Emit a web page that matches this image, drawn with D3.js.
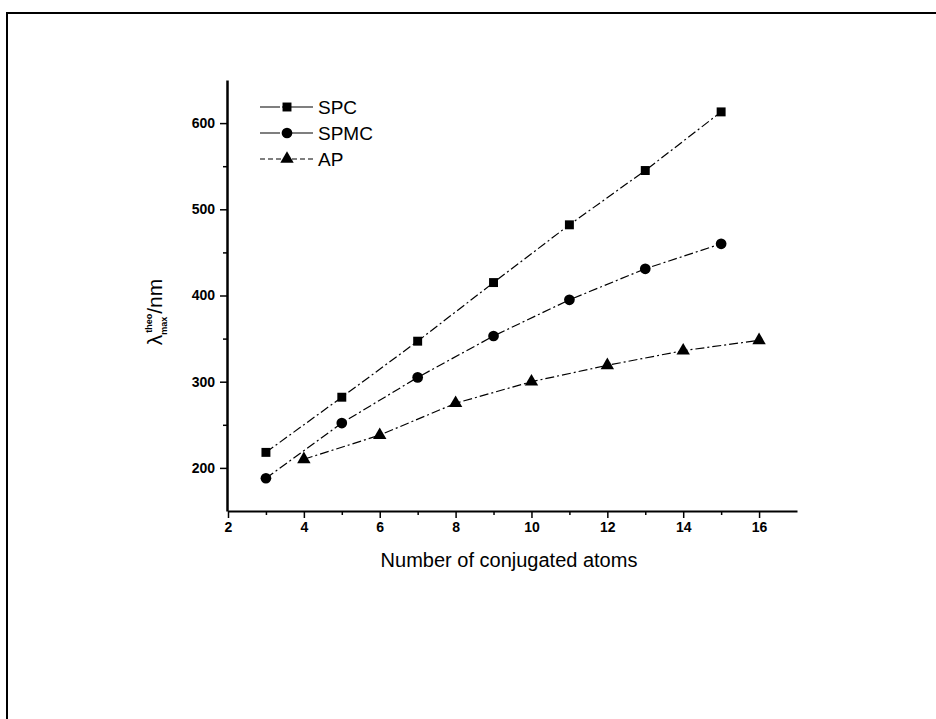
<!DOCTYPE html>
<html>
<head>
<meta charset="utf-8">
<script src="https://cdn.jsdelivr.net/npm/d3@7"></script>
<style>
  body { margin: 0; background: #fff; }
  svg { display: block; font-family: "Liberation Sans", Arial, sans-serif; }
</style>
</head>
<body>
<div id="chart"></div>
<script>
// values
var spcX = [3, 5, 7, 9, 11, 13, 15];
var spcY = [218, 282, 347, 415, 482, 545, 613];
var spmcX = [3, 5, 7, 9, 11, 13, 15];
var spmcY = [188, 252, 305, 353, 395, 431, 460];
var apX = [4, 6, 8, 10, 12, 14, 16];
var apY = [210, 238, 275, 300, 319, 336, 348];
var seriesNames = ["SPC", "SPMC", "AP"];
var xTicks = [2, 4, 6, 8, 10, 12, 14, 16];
var yTicks = [200, 300, 400, 500, 600];

var width = 936, height = 719;

var svg = d3.select("#chart").append("svg")
    .attr("width", width)
    .attr("height", height);

// page frame (runs off right and bottom)
svg.append("rect")
    .attr("x", 7).attr("y", 13)
    .attr("width", 960).attr("height", 760)
    .attr("fill", "none")
    .attr("stroke", "#000")
    .attr("stroke-width", 2);

var x = d3.scaleLinear().domain([2, 17]).range([228, 797]);
var y = d3.scaleLinear().domain([150, 650]).range([511, 80]);

var g = svg.append("g");

// minor ticks first
var xMinor = d3.range(3, 17, 2);
g.append("g")
    .attr("transform", "translate(0,511)")
    .call(d3.axisBottom(x).tickValues(xMinor).tickSize(4).tickFormat(""))
    .call(a => a.select(".domain").remove());
var yMinor = [250, 350, 450, 550];
g.append("g")
    .attr("transform", "translate(227,0)")
    .call(d3.axisLeft(y).tickValues(yMinor).tickSize(4).tickFormat(""))
    .call(a => a.select(".domain").remove());

var xAxis = g.append("g")
    .attr("transform", "translate(0,511)")
    .call(d3.axisBottom(x).tickValues(xTicks).tickSize(7).tickSizeOuter(0).tickPadding(4));
xAxis.select(".domain").attr("stroke-width", 2);
xAxis.selectAll("text").attr("font-size", 14).attr("font-weight", "bold").attr("fill", "#000");

var yAxis = g.append("g")
    .attr("transform", "translate(227,0)")
    .call(d3.axisLeft(y).tickValues(yTicks).tickSize(7).tickSizeOuter(0).tickPadding(5));
yAxis.select(".domain").attr("stroke-width", 2.5);
yAxis.selectAll("text").attr("font-size", 14).attr("font-weight", "bold").attr("fill", "#000");
g.selectAll(".tick line").attr("stroke-width", 1.5);

// axis titles
svg.append("text")
    .attr("x", 509).attr("y", 567)
    .attr("text-anchor", "middle")
    .attr("font-size", 20)
    .text("Number of conjugated atoms");

var yl = svg.append("text")
    .attr("transform", "translate(162,312) rotate(-90)")
    .attr("text-anchor", "middle")
    .attr("font-size", 21);
yl.append("tspan").text("λ");
yl.append("tspan").attr("font-size", 9).attr("font-weight", "bold").attr("dy", 5).text("max");
yl.append("tspan").attr("font-size", 9).attr("font-weight", "bold").attr("dx", -16).attr("dy", -15).text("theo");
yl.append("tspan").attr("dy", 10).text("/nm");

var series = [
  { name: seriesNames[0], xs: spcX, ys: spcY, shape: d3.symbolSquare, size: 80 },
  { name: seriesNames[1], xs: spmcX, ys: spmcY, shape: d3.symbolCircle, size: 90 },
  { name: seriesNames[2], xs: apX, ys: apY, shape: d3.symbolTriangle, size: 78 }
];

var line = d3.line().x(d => x(d[0])).y(d => y(d[1]));

series.forEach(function(s) {
  var pts = s.xs.map((v, i) => [v, s.ys[i]]);
  g.append("path")
      .datum(pts)
      .attr("d", line)
      .attr("fill", "none")
      .attr("stroke", "#000")
      .attr("stroke-width", 1.2)
      .attr("stroke-dasharray", "9,3,2,3");
  g.selectAll(null)
      .data(pts)
      .enter().append("path")
      .attr("transform", d => "translate(" + x(d[0]) + "," + y(d[1]) + ")")
      .attr("d", d3.symbol().type(s.shape).size(s.size))
      .attr("fill", "#000");
});

// legend
var legend = svg.append("g");
series.forEach(function(s, i) {
  var ly = 107 + i * 26;
  legend.append("line")
      .attr("x1", 260).attr("x2", 313)
      .attr("y1", ly).attr("y2", ly)
      .attr("stroke", "#000")
      .attr("stroke-width", 1.2)
      .attr("stroke-dasharray", i == 2 ? "5,3" : "20,2,30,0");
  legend.append("path")
      .attr("transform", "translate(287," + ly + ")")
      .attr("d", d3.symbol().type(s.shape).size(s.size))
      .attr("fill", "#000");
  legend.append("text")
      .attr("x", 318).attr("y", ly + 7)
      .attr("font-size", 19)
      .text(s.name);
});
</script>
</body>
</html>
